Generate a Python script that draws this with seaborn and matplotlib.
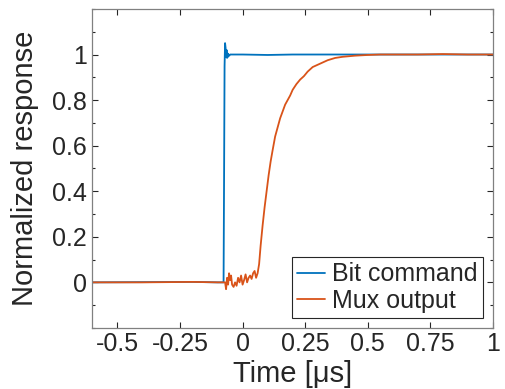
import matplotlib
matplotlib.use("Agg")
import matplotlib.pyplot as plt
import pandas as pd
import seaborn as sns
from matplotlib.ticker import MultipleLocator

# values (time in microseconds)
bit_t = [-0.6, -0.20, -0.10, -0.076, -0.074, -0.072, -0.070, -0.068, -0.066, -0.064,
         -0.062, -0.060, -0.058, -0.056, -0.053, -0.050, 0.0, 0.1, 0.2, 0.3, 0.4, 1.0]
bit_y = [0.0, 0.002, 0.0, 0.0, 0.45, 0.95, 1.05, 1.03, 0.99, 1.02,
         0.985, 1.005, 0.99, 1.0, 0.995, 1.0, 1.0, 0.998, 1.0, 1.0, 1.0, 1.0]

mux_t = [-0.6, -0.4, -0.2, -0.1, -0.070, -0.066, -0.062, -0.058, -0.054, -0.050,
         -0.046, -0.042, -0.036, -0.030, -0.024, -0.018, -0.012, -0.006, 0.0, 0.006,
         0.012, 0.018, 0.024, 0.030, 0.036, 0.042, 0.048, 0.054, 0.060, 0.066,
         0.072, 0.080, 0.088, 0.096, 0.104, 0.112, 0.120, 0.130, 0.140, 0.150,
         0.160, 0.170, 0.180, 0.190, 0.200, 0.215, 0.230, 0.245, 0.260, 0.280,
         0.300, 0.320, 0.340, 0.370, 0.400, 0.450, 0.500, 0.550, 0.600, 0.700,
         0.800, 0.900, 1.0]
mux_y = [0.0, 0.0, 0.002, 0.0, 0.0, -0.03, 0.02, -0.01, 0.04, 0.01,
         0.03, -0.01, -0.02, 0.0, -0.015, 0.02, 0.0, 0.03, -0.01, 0.01,
         0.035, 0.0, 0.02, 0.03, 0.015, 0.04, 0.05, 0.02, 0.04, 0.08,
         0.16, 0.25, 0.33, 0.40, 0.47, 0.53, 0.58, 0.64, 0.68, 0.72,
         0.75, 0.78, 0.80, 0.82, 0.845, 0.87, 0.89, 0.905, 0.925, 0.945,
         0.955, 0.965, 0.975, 0.985, 0.99, 0.995, 0.998, 1.0, 1.0, 1.0,
         1.002, 1.0, 1.0]

xticks = [-0.5, -0.25, 0, 0.25, 0.5, 0.75, 1]
xticklabels = ["-0.5", "-0.25", "0", "0.25", "0.5", "0.75", "1"]
yticks = [0, 0.2, 0.4, 0.6, 0.8, 1]
yticklabels = ["0", "0.2", "0.4", "0.6", "0.8", "1"]

df = pd.concat([
    pd.DataFrame({"t": bit_t, "y": bit_y, "series": "Bit command"}),
    pd.DataFrame({"t": mux_t, "y": mux_y, "series": "Mux output"}),
])

sns.set_style("ticks")
plt.rcParams["font.family"] = ["Liberation Sans", "DejaVu Sans"]
plt.rcParams["axes.unicode_minus"] = False

fig = plt.figure(figsize=(5.05, 3.89), dpi=100)
ax = fig.add_axes([0.183, 0.157, 0.793, 0.820])

sns.lineplot(data=df, x="t", y="y", hue="series", sort=False,
             palette={"Bit command": "#0072BD", "Mux output": "#D95319"},
             linewidth=1.3, ax=ax)

ax.set_xlim(-0.6, 1)
ax.set_ylim(-0.2, 1.2)
ax.set_xticks(xticks)
ax.set_xticklabels(xticklabels)
ax.set_yticks(yticks)
ax.set_yticklabels(yticklabels)
ax.yaxis.set_minor_locator(MultipleLocator(0.1))
ax.tick_params(which="both", direction="in", top=True, right=True,
               colors="#262626", labelsize=18, width=0.8)
ax.tick_params(which="major", length=4)
ax.tick_params(which="minor", length=2.5)
ax.tick_params(axis="x", pad=3)
ax.tick_params(axis="y", pad=4)
for s in ax.spines.values():
    s.set_color("#808080")
    s.set_linewidth(0.9)

ax.set_xlabel("Time [μs]", fontsize=21, color="#262626", labelpad=3)
ax.set_ylabel("Normalized response", fontsize=21, color="#262626", labelpad=9)

leg = ax.legend(loc="lower right", fontsize=18, frameon=True, fancybox=False,
                handlelength=1.1, handletextpad=0.3, borderpad=0.2,
                labelspacing=0.1, borderaxespad=0.4)
leg.get_frame().set_edgecolor("#262626")
leg.get_frame().set_linewidth(0.8)
leg.get_frame().set_alpha(1)

fig.savefig("out.png", dpi=100)
